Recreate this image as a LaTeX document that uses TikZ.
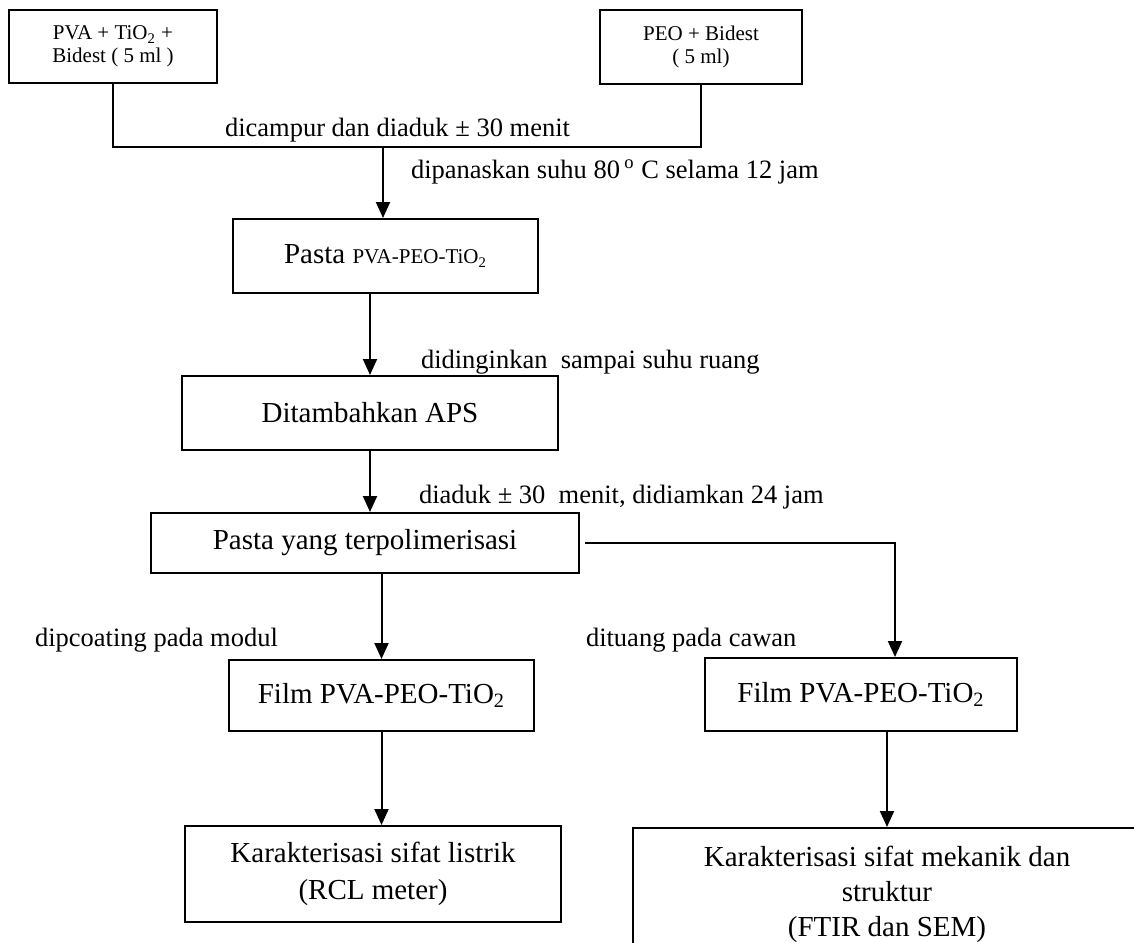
\documentclass[tikz,border=0pt]{standalone}
\usepackage{fontspec}
\setmainfont{Liberation Serif}
\usetikzlibrary{arrows.meta, calc}
\newcommand{\bigsz}{\fontsize{14.5}{18.5}\selectfont}
\newcommand{\smallsz}{\fontsize{10.5}{11.5}\selectfont}
\newcommand{\labsz}{\fontsize{13.25}{16}\selectfont}
\tikzset{
  rect/.style={draw, line width=1pt, inner sep=0, align=center, font=\bigsz},
  srect/.style={rect, font=\smallsz},
  textonly/.style={draw=none, inner sep=0, anchor=west, font=\labsz}
}

\begin{document}
\begin{tikzpicture}[x=0.5pt, y=-0.5pt, >={Triangle[length=8pt,width=7pt]}, line width=1pt]
\useasboundingbox (0,0) rectangle (1134,942);

% starting materials
\node [srect, minimum width=104pt, minimum height=36.5pt] (pva) at (113,46.5) {PVA + TiO\textsubscript{2} +\\Bidest ( 5 ml )};
\node [srect, minimum width=101pt, minimum height=37pt] (peo) at (701,47) {PEO + Bidest\\( 5 ml)};

\coordinate (join) at (383,147);
\draw (pva.south) |- (join) -| (peo.south);
\node [textonly] (mixlbl) at (224,130) {dicampur dan diaduk ± 30 menit};

\node [rect, minimum width=152.5pt, minimum height=37pt] (pasta) at (385.5,256) {Pasta {\smallsz PVA-PEO-TiO\textsubscript{2}}};
\draw[->] (join) -- (join |- pasta.north);
\node [textonly] (heatlbl) at (410,172) {dipanaskan suhu 80\,\textsuperscript{o} C selama 12 jam};

\node [rect, minimum width=188pt, minimum height=37pt] (aps) at (370,413) {Ditambahkan APS};
\draw[->] (pasta.south -| aps.north) -- (aps.north);
\node [textonly] (coollbl) at (420,362) {didinginkan\ \ sampai suhu ruang};

\node [rect, minimum width=214pt, minimum height=30pt] (poly) at (365,543) {Pasta yang terpolimerisasi};
\draw[->] (aps.south) -- (aps.south |- poly.north);
\node [textonly] (stirlbl) at (418,497) {diaduk ± 30\ \ menit, didiamkan 24 jam};

% two branches
\node [rect, minimum width=152.5pt, minimum height=35.5pt] (filml) at (381.5,695.5) {Film PVA-PEO-TiO\textsubscript{2}};
\node [rect, minimum width=156pt, minimum height=36.5pt] (filmr) at (861,694.5) {Film PVA-PEO-TiO\textsubscript{2}};
\coordinate (turn) at (895,543);
\draw[->] (filml.north |- poly.south) -- (filml.north);
\draw[->] ([xshift=2.5pt]poly.east) -- (turn) -- (turn |- filmr.north);
\node [textonly] (diplbl) at (34,640) {dipcoating pada modul};
\node [textonly] (castlbl) at (585,640) {dituang pada cawan};

\node [rect, minimum width=188pt, minimum height=48pt] (elec) at (373,874) {Karakterisasi sifat listrik\\(RCL meter)};
\node [rect, minimum width=254pt, minimum height=66pt, font=\fontsize{14.5}{17.5}\selectfont] (mech) at (887,894) {Karakterisasi sifat mekanik dan\\struktur\\(FTIR dan SEM)};
\draw[->] (filml.south) -- (filml.south |- elec.north);
\draw[->] (mech.north |- filmr.south) -- (mech.north);

\end{tikzpicture}
\end{document}
